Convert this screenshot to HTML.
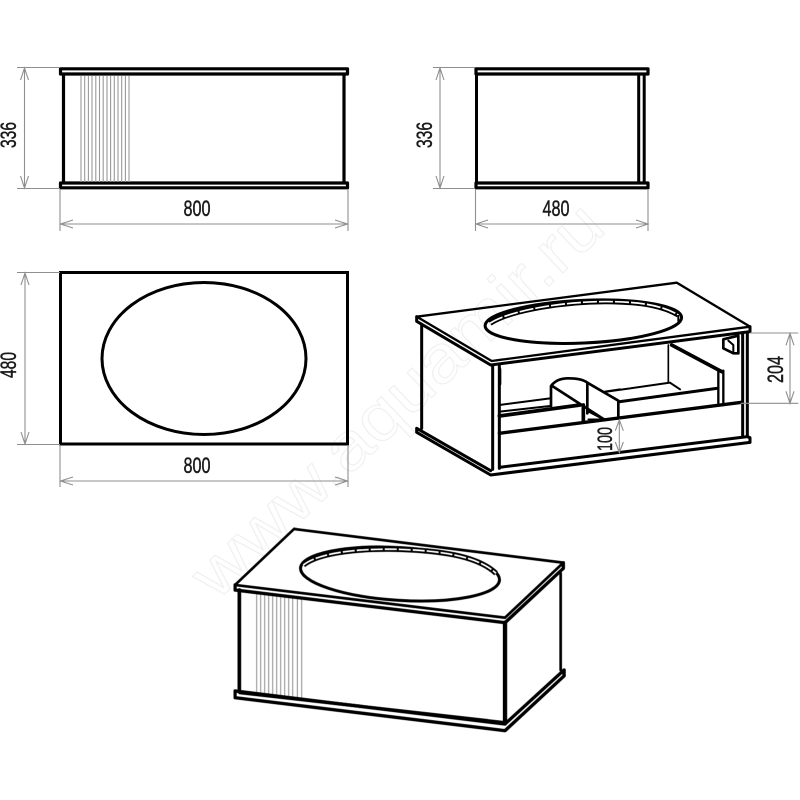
<!DOCTYPE html>
<html>
<head>
<meta charset="utf-8">
<style>
html,body{margin:0;padding:0;background:#fff}
svg{display:block}
text{font-family:"Liberation Sans Narrow","Liberation Sans",sans-serif;fill:#1a1a1a;stroke:#1a1a1a;stroke-width:.45;text-anchor:middle}
.d{stroke:#8f8f8f;stroke-width:1.1;fill:none}
.k{stroke:#000;fill:none;stroke-linejoin:round;stroke-linecap:round}
.s{stroke:#999;stroke-width:1.1;fill:none}
</style>
</head>
<body>
<svg width="800" height="800" viewBox="0 0 800 800" xmlns="http://www.w3.org/2000/svg">
<rect width="800" height="800" fill="#fff"/>
<text x="398" y="420" transform="rotate(-43.5 400 400)" font-size="66" textLength="540" lengthAdjust="spacingAndGlyphs" style="fill:#fff;stroke:#f0f0f0;stroke-width:1.1">www.aquamir.ru</text>

<g style="filter:blur(.3px)">
<!-- Front view -->
<g class="k">
<path d="M60.500 68.800H347.500V74H60.500Z" stroke-width="3.200"/>
<path d="M60.500 183H347.500V187.800H60.500Z" stroke-width="3.200"/>
<path d="M63.500 75V182M344 75V182" stroke-width="3.200"/>
</g>
<path class="s" d="M81 76V182M84.700 76V182M88.400 76V182M92 76V182M95.800 76V182M99.500 76V182M103.200 76V182M107 76V182M110.600 76V182M114.300 76V182M118 76V182M121.700 76V182M125.400 76V182M129 76V182"/>
<path class="d" d="M17 67.500H60M17 188.500H60M24.500 68V188M20.500 80L24.500 68L28.500 80M20.500 176L24.500 188L28.500 176M60 189V231M348 189V231M60.500 224H347.500M73 220L60.500 224L73 228M335 220L347.500 224L335 228"/>
<text x="197" y="216" font-size="22" textLength="27" lengthAdjust="spacingAndGlyphs">800</text>
<text transform="translate(16 135) rotate(-90)" font-size="22" textLength="26" lengthAdjust="spacingAndGlyphs">336</text>

<!-- Side view -->
<g class="k">
<path d="M476 68.800H648V74H476Z" stroke-width="3.200"/>
<path d="M476 183H648V187.800H476Z" stroke-width="3.200"/>
<path d="M476.500 75V182M638.700 75V182M644.200 75V182" stroke-width="3"/>
</g>
<path class="d" d="M433 67.500H475M433 188.500H475M440 68V188M436 80L440 68L444 80M436 176L440 188L444 176M475.500 189V231M648 189V231M476 224H648M488 220L476 224L488 228M636 220L648 224L636 228"/>
<text x="556" y="216" font-size="22" textLength="27" lengthAdjust="spacingAndGlyphs">480</text>
<text transform="translate(432 135) rotate(-90)" font-size="22" textLength="26" lengthAdjust="spacingAndGlyphs">336</text>

<!-- Top view -->
<rect x="60.500" y="272.500" width="287" height="171.500" fill="none" stroke="#000" stroke-width="3"/>
<ellipse cx="204" cy="358.500" rx="102" ry="76" fill="none" stroke="#000" stroke-width="3"/>
<path class="d" d="M17 272.500H60M17 444.500H60M25 273V444M21 285L25 273L29 285M21 432L25 444L29 432M60 445V487M348 445V487M60.500 481H347.500M73 477L60.500 481L73 485M335 477L347.500 481L335 485"/>
<text x="197" y="473" font-size="22" textLength="27" lengthAdjust="spacingAndGlyphs">800</text>
<text transform="translate(16 365) rotate(-90)" font-size="22" textLength="26" lengthAdjust="spacingAndGlyphs">480</text>

<!-- Open isometric view -->
<g transform="translate(400 280) scale(.33333)">
<g class="k" stroke-width="7">
<path d="M50 110L830 8L1050 140L275 243Z"/>
<path d="M50 110V124L272 255L1050 155V140" stroke-width="9"/>
<path d="M65 135V445M278 258V568M298 258V565M1028 160V470M1042 160V470" stroke-width="9"/>
<path d="M50 445V457L272 585L1050 487V473L1042 470L298 562M50 445L272 572" stroke-width="9"/>
<path d="M298 460L1025 367" stroke-width="10"/>
<path d="M298 408L540 375" stroke-width="11"/>
<path d="M298 375L450 355M298 395L450 378M615 335L660 328" stroke-width="6"/>
<path d="M453 378V318Q470 295 505 295Q545 295 562 308V400" stroke-width="8"/>
<path d="M455 317L615 420M562 308L655 362V415" stroke-width="8"/>
<path d="M550 375V425" stroke-width="11"/>
<path d="M565 395L610 418M565 418L600 418" stroke-width="5"/>
<path d="M660 365L950 325" stroke-width="9"/>
<path d="M620 335L810 308L840 328" stroke-width="6"/>
<path d="M805 195V305" stroke-width="5"/>
<path d="M815 195L965 275" stroke-width="11"/>
<path d="M955 272V370M970 272V368" stroke-width="7"/>
<path d="M970 178L1015 167V220H1000L970 205Z" stroke-width="8"/>
<path d="M985 182L1000 195V215" stroke-width="6"/>
<path d="M300 268V312" stroke-width="8"/>
</g>
<ellipse cx="550" cy="125" rx="295" ry="64" fill="none" stroke="#000" stroke-width="9" transform="rotate(-2.500 550 125)"/>
<path d="M270 130C330 90 500 62 640 65C730 67 790 78 835 105" fill="none" stroke="#000" stroke-width="16"/>
<path d="M270 130C330 90 500 62 640 65C730 67 790 78 835 105" fill="none" stroke="#fff" stroke-width="5" stroke-dasharray="42 6"/>
<path d="M835 105V125" stroke="#000" stroke-width="6" fill="none"/>
<path class="d" style="stroke-width:3.300" d="M1050 159H1195M1022 370H1195M1170 160V370M1158 196L1170 160L1182 196M1158 334L1170 370L1182 334M658 420V518M646 452L658 420L670 452M646 486L658 518L670 486"/>
</g>
<text transform="translate(783 369.500) rotate(-90)" font-size="22" textLength="27" lengthAdjust="spacingAndGlyphs">204</text>
<text transform="translate(612 439) rotate(-90)" font-size="21" textLength="24" lengthAdjust="spacingAndGlyphs">100</text>

<!-- Closed isometric view -->
<g transform="translate(220 520) scale(.33333)">
<path class="s" style="stroke-width:3.300" d="M110 222V522M122 223V523M134 225V525M146 226V526M158 228V528M170 229V529M182 231V531M194 232V532M206 234V534M218 235V535M232 237V537M245 238V538"/>
<g class="k" stroke-width="8">
<path d="M45 195L222 27L1030 128L855 293Z"/>
<path d="M45 195V210L855 308L1030 145V128" stroke-width="10"/>
<path d="M58 210V515" stroke-width="11"/>
<path d="M855 308V610" stroke-width="13"/>
<path d="M1022 160V450" stroke-width="8"/>
<path d="M45 513V533L855 632L1032 468V450L855 612L45 513" stroke-width="10"/>
<path d="M60 518L855 608" stroke-width="10"/>
</g>
<ellipse cx="540" cy="162" rx="299" ry="79" fill="none" stroke="#000" stroke-width="9" transform="rotate(3.500 540 162)"/>
<path d="M250 135C300 95 430 85 540 88C650 92 770 105 828 160" fill="none" stroke="#000" stroke-width="16"/>
<path d="M250 135C300 95 430 85 540 88C650 92 770 105 828 160" fill="none" stroke="#fff" stroke-width="5" stroke-dasharray="36 6"/>
</g>
</g>
</svg>
</body>
</html>
